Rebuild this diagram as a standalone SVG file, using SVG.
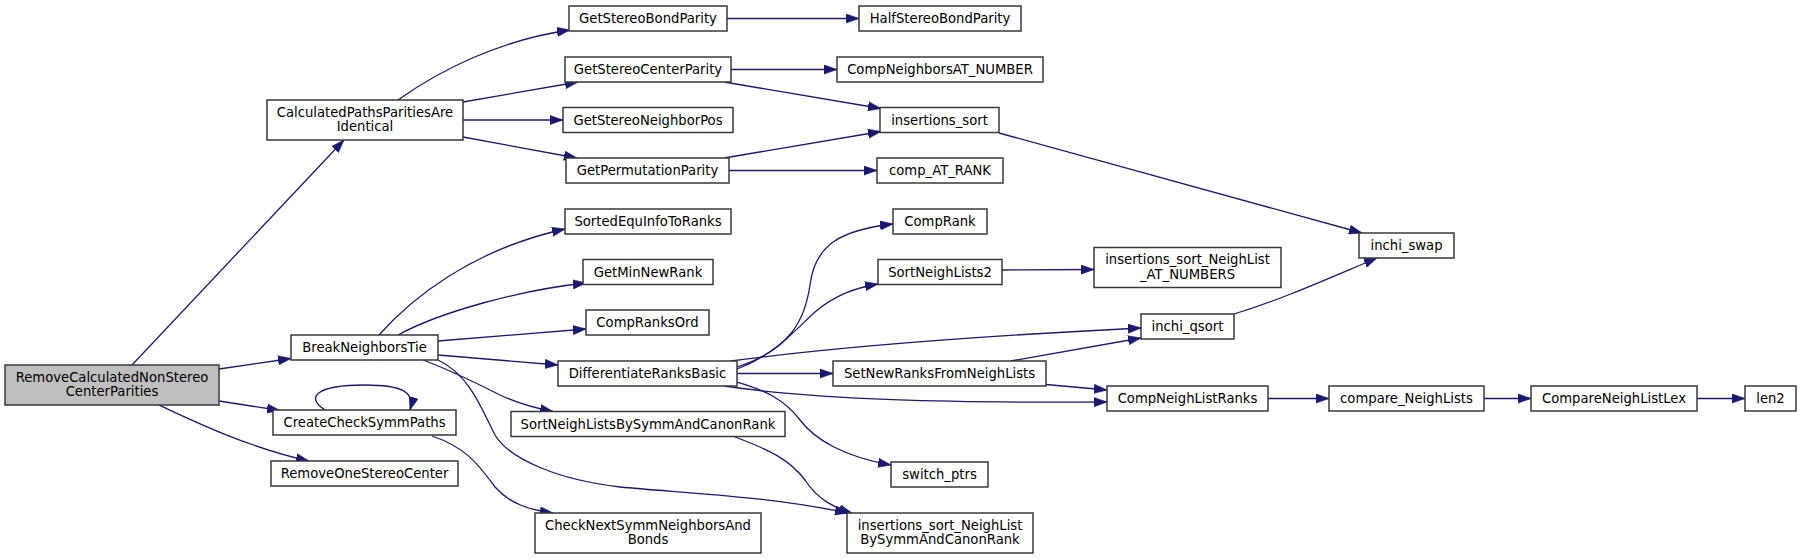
<svg xmlns="http://www.w3.org/2000/svg" width="1801" height="559" viewBox="0 0 1801 559">
<style>
  .n rect { fill: #ffffff; stroke: #383838; stroke-width: 1.5; }
  .n.root rect { fill: #bfbfbf; }
  .n text { font-family: "DejaVu Sans", "Liberation Sans", sans-serif; font-size: 13.2px; fill: #000000; text-anchor: middle; }
  .e path { fill: none; stroke: #191970; stroke-width: 1.3; marker-end: url(#arr); }
</style>
<defs>
  <marker id="arr" markerUnits="userSpaceOnUse" markerWidth="14" markerHeight="10" viewBox="0 0 14 10" refX="13" refY="5" orient="auto">
    <path d="M0,0.4 L13,5 L0,9.6 z" fill="#191970" stroke="#191970" stroke-width="0.6"/>
  </marker>
</defs>
<rect x="0" y="0" width="1801" height="559" fill="#ffffff"/>
<g id="edges" class="e">
  <path d="M132,365 L344,140"/>
  <path d="M219,369 L291,358.5"/>
  <path d="M219,401 L280,410.5"/>
  <path d="M159,405 C195,422 250,448 309,461"/>
  <path d="M325,410 C306,398 314,385 365,385 C404,385 415,393 410,410"/>
  <path d="M432,436 C468,448 480,467 495,487 C510,504 530,510 553,513"/>
  <path d="M398,100 C440,70 500,40 570,30"/>
  <path d="M463,102 L578,82"/>
  <path d="M463,120 L563,120"/>
  <path d="M463,137 L577,158"/>
  <path d="M727,18.5 L859,18.5"/>
  <path d="M731,69.5 L837,69.5"/>
  <path d="M724,82 L881,108.5"/>
  <path d="M724,158 L881,131.5"/>
  <path d="M729,170.5 L877,170.5"/>
  <path d="M999,133 L1362,233"/>
  <path d="M379,335 C410,300 470,250 565,229"/>
  <path d="M398,335 C440,312 520,290 586,283"/>
  <path d="M438,341 L586,329"/>
  <path d="M438,355 L558,365"/>
  <path d="M423,360 C455,372 480,385 500,395 C515,402 530,407 553,411.5"/>
  <path d="M438,360 C470,375 482,410 495,435 C510,460 560,480 620,487 C680,493 760,495 848,513"/>
  <path d="M737,367 C790,350 805,320 810,285 C815,245 840,230 893,224"/>
  <path d="M737,369 C775,355 795,330 815,312 C835,295 855,288 878,284"/>
  <path d="M731,361 C850,345 1000,335 1141,328"/>
  <path d="M737,373.5 L833,373.5"/>
  <path d="M724,386 C820,400 950,403 1107,402"/>
  <path d="M737,382 C765,390 785,400 800,420 C815,440 845,457 891,465"/>
  <path d="M1011,361 L1141,338"/>
  <path d="M1046,384.5 L1107,390"/>
  <path d="M735,437 C770,450 790,460 805,480 C818,500 835,508 852,513"/>
  <path d="M1002,270 L1094,269.5"/>
  <path d="M1234,314 C1280,300 1320,282 1377,258"/>
  <path d="M1268,398.5 L1329,398.5"/>
  <path d="M1484,398.5 L1531,398.5"/>
  <path d="M1697,398.5 L1745,398.5"/>
</g>
<g id="n_root" class="n root"><rect x="5" y="365" width="214" height="40"/><text x="112" y="381.5">RemoveCalculatedNonStereo</text><text x="112" y="396">CenterParities</text></g>
<g id="n_calc" class="n"><rect x="267" y="100" width="196" height="40"/><text x="365" y="116.5">CalculatedPathsParitiesAre</text><text x="365" y="131">Identical</text></g>
<g id="n_break" class="n"><rect x="291" y="335" width="147" height="25"/><text x="364.5" y="352">BreakNeighborsTie</text></g>
<g id="n_create" class="n"><rect x="273" y="410" width="183" height="25"/><text x="364.5" y="427">CreateCheckSymmPaths</text></g>
<g id="n_removeone" class="n"><rect x="271" y="461" width="187" height="25"/><text x="364.5" y="478">RemoveOneStereoCenter</text></g>
<g id="n_getbond" class="n"><rect x="569" y="6" width="158" height="25"/><text x="648" y="23">GetStereoBondParity</text></g>
<g id="n_half" class="n"><rect x="859" y="6" width="162" height="25"/><text x="940" y="23">HalfStereoBondParity</text></g>
<g id="n_getcenter" class="n"><rect x="565" y="57" width="166" height="25"/><text x="648" y="74">GetStereoCenterParity</text></g>
<g id="n_compnat" class="n"><rect x="837" y="57" width="206" height="25"/><text x="940" y="74">CompNeighborsAT_NUMBER</text></g>
<g id="n_getneigh" class="n"><rect x="563" y="107.5" width="170" height="25"/><text x="648" y="124.5">GetStereoNeighborPos</text></g>
<g id="n_inssort" class="n"><rect x="880" y="107.5" width="119" height="25"/><text x="939.5" y="124.5">insertions_sort</text></g>
<g id="n_getperm" class="n"><rect x="566" y="158" width="163" height="25"/><text x="647.5" y="175">GetPermutationParity</text></g>
<g id="n_compat" class="n"><rect x="877" y="158" width="126" height="25"/><text x="940" y="175">comp_AT_RANK</text></g>
<g id="n_sorted" class="n"><rect x="565" y="209" width="166" height="25"/><text x="648" y="226">SortedEquInfoToRanks</text></g>
<g id="n_comprank" class="n"><rect x="893" y="209" width="94" height="25"/><text x="940" y="226">CompRank</text></g>
<g id="n_getmin" class="n"><rect x="583" y="259.5" width="130" height="25"/><text x="648" y="276.5">GetMinNewRank</text></g>
<g id="n_snl2" class="n"><rect x="878" y="259.5" width="124" height="25"/><text x="940" y="276.5">SortNeighLists2</text></g>
<g id="n_insnat" class="n"><rect x="1094" y="247.5" width="187" height="40"/><text x="1187.5" y="264">insertions_sort_NeighList</text><text x="1187.5" y="278.5">_AT_NUMBERS</text></g>
<g id="n_compranksord" class="n"><rect x="586" y="310" width="123" height="25"/><text x="647.5" y="327">CompRanksOrd</text></g>
<g id="n_diff" class="n"><rect x="558" y="361" width="179" height="25"/><text x="647.5" y="378">DifferentiateRanksBasic</text></g>
<g id="n_setnew" class="n"><rect x="833" y="361" width="213" height="25"/><text x="939.5" y="378">SetNewRanksFromNeighLists</text></g>
<g id="n_sortbysymm" class="n"><rect x="511" y="411.5" width="274" height="25"/><text x="648" y="428.5">SortNeighListsBySymmAndCanonRank</text></g>
<g id="n_switch" class="n"><rect x="891" y="462" width="97" height="25"/><text x="939.5" y="479">switch_ptrs</text></g>
<g id="n_inssymm" class="n"><rect x="847" y="513" width="186" height="40"/><text x="940" y="529.5">insertions_sort_NeighList</text><text x="940" y="544">BySymmAndCanonRank</text></g>
<g id="n_checknext" class="n"><rect x="535" y="513" width="226" height="40"/><text x="648" y="529.5">CheckNextSymmNeighborsAnd</text><text x="648" y="544">Bonds</text></g>
<g id="n_swap" class="n"><rect x="1359" y="233" width="95" height="25"/><text x="1406.5" y="250">inchi_swap</text></g>
<g id="n_qsort" class="n"><rect x="1141" y="314" width="93" height="25"/><text x="1187.5" y="331">inchi_qsort</text></g>
<g id="n_cnlr" class="n"><rect x="1107" y="386" width="161" height="25"/><text x="1187.5" y="403">CompNeighListRanks</text></g>
<g id="n_cmpnl" class="n"><rect x="1329" y="386" width="155" height="25"/><text x="1406.5" y="403">compare_NeighLists</text></g>
<g id="n_cnll" class="n"><rect x="1531" y="386" width="166" height="25"/><text x="1614" y="403">CompareNeighListLex</text></g>
<g id="n_len2" class="n"><rect x="1745" y="386" width="51" height="25"/><text x="1770.5" y="403">len2</text></g>
</svg>
